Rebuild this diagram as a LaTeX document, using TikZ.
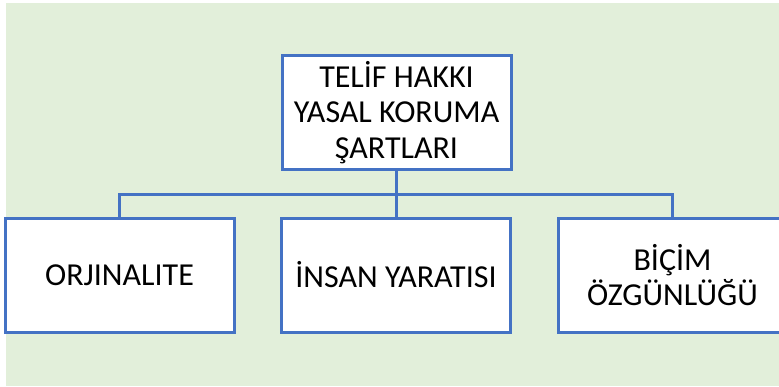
\documentclass[tikz,border=0pt]{standalone}
\usepackage{fontspec}
\setmainfont{Carlito}
\definecolor{bgreen}{HTML}{E2EFDA}
\definecolor{oblue}{HTML}{4472C4}
\tikzset{
  orgbox/.style={draw=oblue, line width=3pt, fill=white, minimum width=229pt, minimum height=114pt,
    inner sep=0pt, align=center, font=\fontsize{32}{35.5}\selectfont, text=black},
  link/.style={draw=oblue, line width=3pt}
}
\begin{document}
\begin{tikzpicture}[x=1pt,y=1pt]
\useasboundingbox (0,0) rectangle (779,-386);
\clip (0,0) rectangle (779,-386);
\fill[white] (0,0) rectangle (779,-386);
\fill[bgreen] (6,-3) rectangle (779,-386);
\coordinate (bus) at (396.5,-194);
\node[orgbox] (top) at (396.5,-112.5) {TELİF HAKKI\\YASAL KORUMA\\ŞARTLARI};
\node[orgbox] (left) at (119.5,-275) {ORJINALITE};
\node[orgbox] (mid) at (396,-275) {İNSAN YARATISI};
\node[orgbox] (right) at (672.5,-275) {BİÇİM\\ÖZGÜNLÜĞÜ};
\draw[link] (top.south) -- (bus);
\draw[link] (bus) -| (left.north);
\draw[link] (bus) -| (right.north);
\draw[link] (bus) -| (mid.north);
\end{tikzpicture}
\end{document}
